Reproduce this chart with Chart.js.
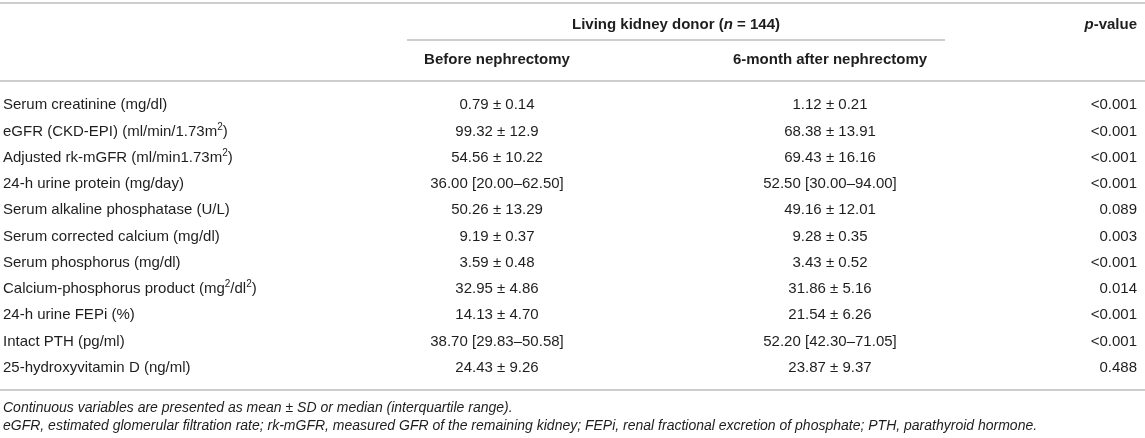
<!DOCTYPE html>
<html>
<head>
<meta charset="utf-8">
<script src="https://cdn.jsdelivr.net/npm/chart.js@4"></script>
<style>
  html, body { margin: 0; padding: 0; background: #fff; }
  #wrap { width: 1145px; height: 438px; }
</style>
</head>
<body>
<div id="wrap"><canvas id="table" width="1145" height="438"></canvas></div>
<script>
// table content
const rowLabels = [
    'Serum creatinine (mg/dl)',
    'eGFR (CKD-EPI) (ml/min/1.73m²)',
    'Adjusted rk-mGFR (ml/min1.73m²)',
    '24-h urine protein (mg/day)',
    'Serum alkaline phosphatase (U/L)',
    'Serum corrected calcium (mg/dl)',
    'Serum phosphorus (mg/dl)',
    'Calcium-phosphorus product (mg²/dl²)',
    '24-h urine FEPi (%)',
    'Intact PTH (pg/ml)',
    '25-hydroxyvitamin D (ng/ml)'
];
const beforeValues = ['0.79 ± 0.14', '99.32 ± 12.9', '54.56 ± 10.22', '36.00 [20.00–62.50]', '50.26 ± 13.29',
    '9.19 ± 0.37', '3.59 ± 0.48', '32.95 ± 4.86', '14.13 ± 4.70', '38.70 [29.83–50.58]', '24.43 ± 9.26'];
const afterValues = ['1.12 ± 0.21', '68.38 ± 13.91', '69.43 ± 16.16', '52.50 [30.00–94.00]', '49.16 ± 12.01',
    '9.28 ± 0.35', '3.43 ± 0.52', '31.86 ± 5.16', '21.54 ± 6.26', '52.20 [42.30–71.05]', '23.87 ± 9.37'];
const pValues = ['<0.001', '<0.001', '<0.001', '<0.001', '0.089', '0.003', '<0.001', '0.014', '<0.001', '<0.001', '0.488'];

const groupTitle = [['Living kidney donor (', 'b'], ['n', 'bi'], [' = 144)', 'b']];
const columnTitles = ['Before nephrectomy', '6-month after nephrectomy'];
const pTitle = [['p', 'bi'], ['-value', 'b']];
const footnotes = [
    'Continuous variables are presented as mean ± SD or median (interquartile range).',
    'eGFR, estimated glomerular filtration rate; rk-mGFR, measured GFR of the remaining kidney; FEPi, renal fractional excretion of phosphate; PTH, parathyroid hormone.'
];

// layout (x positions on the hidden x scale)
const cols = { label: 3, before: 497, after: 830, p: 1137, groupFrom: 407, groupTo: 945 };
const FAMILY = '"Liberation Sans", Arial, Helvetica, sans-serif';
const TEXT = '#1e1e1e';
const RULE = '#bcbcbc';

function fontFor(style, size) {
    let f = '';
    if (style.includes('i')) f += 'italic ';
    if (style.includes('b')) f += 'bold ';
    if (style.includes('s')) size = Math.round(size * 0.68);
    return f + size + 'px ' + FAMILY;
}

// splits "m²" into a normal run and a raised small "2"
function withSup(text, style) {
    const runs = [];
    text.split('²').forEach((part, i) => {
        if (i > 0) runs.push(['2', style + 's']);
        if (part) runs.push([part, style]);
    });
    return runs;
}

// draws a list of [text, style] pieces as one line
function drawRuns(ctx, runs, x, y, align, size) {
    let total = 0;
    runs.forEach(r => { ctx.font = fontFor(r[1], size); total += ctx.measureText(r[0]).width; });
    let start = x;
    if (align === 'center') start = x - total / 2;
    else if (align === 'right') start = x - total;
    ctx.textAlign = 'left';
    runs.forEach(r => {
        ctx.font = fontFor(r[1], size);
        const dy = r[1].includes('s') ? -size * 0.3 : 0;
        ctx.fillText(r[0], start, y + dy);
        start += ctx.measureText(r[0]).width;
    });
}

function hline(ctx, x1, x2, y) {
    ctx.beginPath();
    ctx.moveTo(x1, y);
    ctx.lineTo(x2, y);
    ctx.stroke();
}

function cells(x) {
    return rowLabels.map(l => ({ x: x, y: l }));
}

const tablePlugin = {
    id: 'tablePlugin',
    afterDatasetsDraw(chart) {
        const ctx = chart.ctx;
        const area = chart.chartArea;
        const xs = chart.scales.x;
        ctx.save();

        // rules
        ctx.strokeStyle = RULE;
        ctx.lineWidth = 1.6;
        hline(ctx, 0, chart.width, area.top - 89);
        hline(ctx, xs.getPixelForValue(cols.groupFrom), xs.getPixelForValue(cols.groupTo), area.top - 52);
        hline(ctx, 0, chart.width, area.top - 11);
        hline(ctx, 0, chart.width, area.bottom + 9);

        ctx.fillStyle = TEXT;
        ctx.textBaseline = 'middle';

        // headers
        const groupX = (xs.getPixelForValue(cols.groupFrom) + xs.getPixelForValue(cols.groupTo)) / 2;
        drawRuns(ctx, groupTitle, groupX, area.top - 67, 'center', 15);
        drawRuns(ctx, pTitle, xs.getPixelForValue(cols.p), area.top - 67, 'right', 15);
        drawRuns(ctx, [[columnTitles[0], 'b']], xs.getPixelForValue(cols.before), area.top - 32, 'center', 15);
        drawRuns(ctx, [[columnTitles[1], 'b']], xs.getPixelForValue(cols.after), area.top - 32, 'center', 15);

        // body cells, placed on the points of each dataset
        chart.data.datasets.forEach((ds, di) => {
            const meta = chart.getDatasetMeta(di);
            meta.data.forEach((pt, i) => {
                drawRuns(ctx, withSup(ds.texts[i], ''), pt.x, pt.y, ds.align, 15);
            });
        });

        // footnotes
        drawRuns(ctx, [[footnotes[0], 'i']], 3, area.bottom + 27, 'left', 14);
        drawRuns(ctx, [[footnotes[1], 'i']], 3, area.bottom + 45, 'left', 14);
        ctx.restore();
    }
};

const ctx = document.getElementById('table').getContext('2d');
new Chart(ctx, {
    type: 'scatter',
    data: {
        datasets: [
            { label: 'Variable', data: cells(cols.label), texts: rowLabels, align: 'left' },
            { label: columnTitles[0], data: cells(cols.before), texts: beforeValues, align: 'center' },
            { label: columnTitles[1], data: cells(cols.after), texts: afterValues, align: 'center' },
            { label: 'p-value', data: cells(cols.p), texts: pValues, align: 'right' }
        ]
    },
    options: {
        responsive: false,
        animation: false,
        events: [],
        layout: { padding: { top: 92, bottom: 57, left: 0, right: 0 } },
        elements: { point: { radius: 0, hoverRadius: 0 } },
        scales: {
            x: { type: 'linear', min: 0, max: 1145, display: false },
            y: { type: 'category', labels: rowLabels, offset: true, display: false }
        },
        plugins: {
            legend: { display: false },
            tooltip: { enabled: false }
        }
    },
    plugins: [tablePlugin]
});
</script>
</body>
</html>
